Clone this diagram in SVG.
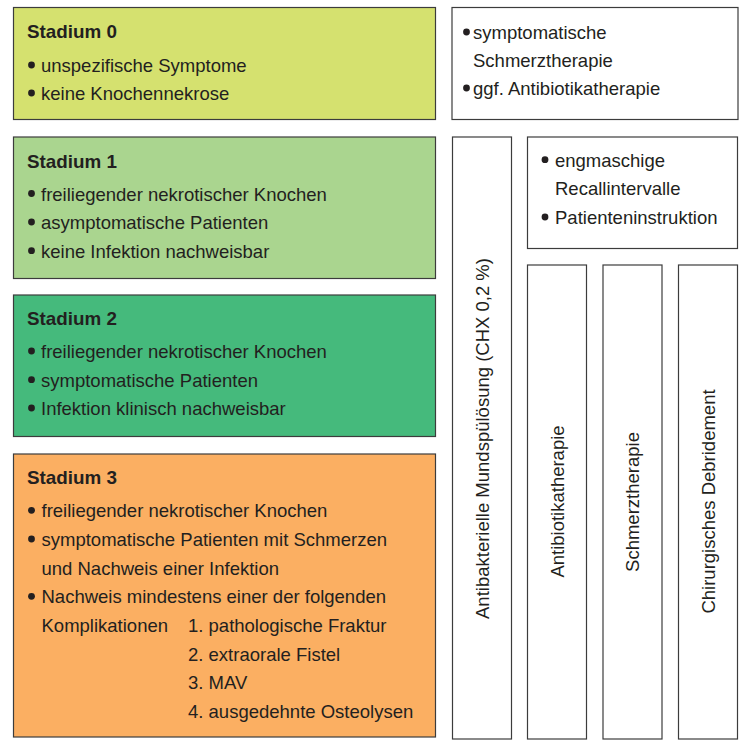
<svg xmlns="http://www.w3.org/2000/svg" width="744" height="740" viewBox="0 0 744 740">
<style>
rect{stroke:#3c3c3c;stroke-width:1.2}
circle{fill:#231f20}
text{font-family:"Liberation Sans",Arial,sans-serif;font-size:18.5px;fill:#231f20}
.t{font-weight:bold}
.v{text-anchor:middle}
</style>
<rect width="744" height="740" fill="#fff" style="stroke:none"/>
<g id="stadium0">
<rect x="13.5" y="7.5" width="422" height="112" fill="#d5e16f"/>
<text class="t" x="27" y="38" textLength="90" lengthAdjust="spacingAndGlyphs">Stadium 0</text>
<circle cx="31.5" cy="65" r="3.4"/><text x="41" y="72">unspezifische Symptome</text>
<circle cx="31.5" cy="93" r="3.4"/><text x="41" y="100">keine Knochennekrose</text>
</g>
<g id="stadium1">
<rect x="13.5" y="137" width="422" height="141.5" fill="#aad58f"/>
<text class="t" x="27" y="167.5" textLength="90" lengthAdjust="spacingAndGlyphs">Stadium 1</text>
<circle cx="31.5" cy="193.5" r="3.4"/><text x="41" y="200.5">freiliegender nekrotischer Knochen</text>
<circle cx="31.5" cy="222" r="3.4"/><text x="41" y="229">asymptomatische Patienten</text>
<circle cx="31.5" cy="250.7" r="3.4"/><text x="41" y="257.7">keine Infektion nachweisbar</text>
</g>
<g id="stadium2">
<rect x="13.5" y="295" width="422" height="141.5" fill="#45ba7c"/>
<text class="t" x="27" y="325" textLength="90" lengthAdjust="spacingAndGlyphs">Stadium 2</text>
<circle cx="31.5" cy="351" r="3.4"/><text x="41" y="358">freiliegender nekrotischer Knochen</text>
<circle cx="31.5" cy="379.7" r="3.4"/><text x="41" y="386.7">symptomatische Patienten</text>
<circle cx="31.5" cy="408" r="3.4"/><text x="41" y="415">Infektion klinisch nachweisbar</text>
</g>
<g id="stadium3">
<rect x="13.5" y="454" width="422" height="283" fill="#fbaf62"/>
<text class="t" x="27" y="484" textLength="90" lengthAdjust="spacingAndGlyphs">Stadium 3</text>
<circle cx="31.5" cy="510.3" r="3.4"/><text x="41.5" y="517.3">freiliegender nekrotischer Knochen</text>
<circle cx="31.5" cy="539" r="3.4"/><text x="41.5" y="546">symptomatische Patienten mit Schmerzen</text>
<text x="41.5" y="575">und Nachweis einer Infektion</text>
<circle cx="31.5" cy="596.3" r="3.4"/><text x="41.5" y="603.3">Nachweis mindestens einer der folgenden</text>
<text x="41.5" y="631.7">Komplikationen</text>
<text x="188" y="631.7">1. pathologische Fraktur</text>
<text x="188" y="660.7">2. extraorale Fistel</text>
<text x="188" y="689.3">3. MAV</text>
<text x="188" y="718.3">4. ausgedehnte Osteolysen</text>
</g>
<g id="therapie0">
<rect x="452" y="7.5" width="286" height="112" fill="#fff"/>
<circle cx="466.5" cy="32" r="3.4"/><text x="473" y="39">symptomatische</text>
<text x="473" y="67">Schmerztherapie</text>
<circle cx="466.5" cy="88" r="3.4"/><text x="473" y="95">ggf. Antibiotikatherapie</text>
</g>
<g id="mundspuelung">
<rect x="452.5" y="137" width="59" height="602" fill="#fff"/>
<text class="v" transform="translate(488.5,438.5) rotate(-90)">Antibakterielle Mundspülösung (CHX 0,2 %)</text>
</g>
<g id="recall">
<rect x="527.5" y="137" width="210" height="111.5" fill="#fff"/>
<circle cx="545" cy="159.7" r="3.4"/><text x="555" y="166.7">engmaschige</text>
<text x="555" y="195">Recallintervalle</text>
<circle cx="545" cy="217" r="3.4"/><text x="555" y="224">Patienteninstruktion</text>
</g>
<g id="antibiotika">
<rect x="527.5" y="265" width="59" height="474" fill="#fff"/>
<text class="v" transform="translate(563.5,501.5) rotate(-90)">Antibiotikatherapie</text>
</g>
<g id="schmerz">
<rect x="603" y="265" width="59" height="474" fill="#fff"/>
<text class="v" transform="translate(638.5,502) rotate(-90)">Schmerztherapie</text>
</g>
<g id="debridement">
<rect x="678.5" y="265" width="59" height="474" fill="#fff"/>
<text class="v" transform="translate(715,501.5) rotate(-90)">Chirurgisches Debridement</text>
</g>
<g id="connectors"></g>
</svg>
